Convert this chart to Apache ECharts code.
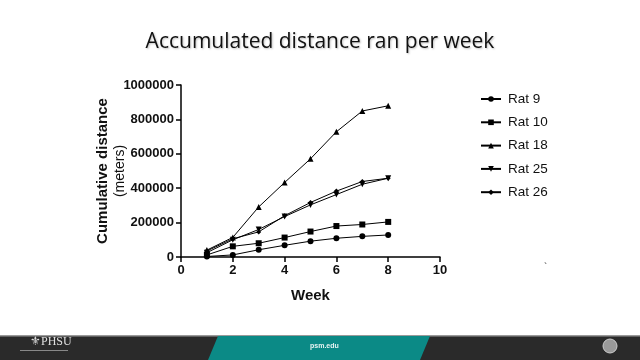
<!DOCTYPE html>
<html><head><meta charset="utf-8">
<script src="https://cdn.jsdelivr.net/npm/echarts@6/dist/echarts.min.js"></script>
<style>html,body{margin:0;padding:0;background:#fff}#c{width:640px;height:360px}</style>
</head><body><div id="c"></div>
<script>
const weeks = [1, 2, 3, 4, 5, 6, 7, 8];
const rat9  = [3000, 12000, 42000, 68000, 92000, 109000, 120000, 128000];
const rat10 = [12000, 62000, 80000, 113000, 148000, 180000, 189000, 204000];
const rat18 = [40000, 114000, 291000, 433000, 571000, 728000, 849000, 879000];
const rat25 = [25000, 100000, 160000, 235000, 303000, 363000, 423000, 458000];
const rat26 = [35000, 106000, 146000, 240000, 317000, 383000, 439000, 458000];
const seriesNames = ['Rat 9', 'Rat 10', 'Rat 18', 'Rat 25', 'Rat 26'];
const xTicks = [0, 2, 4, 6, 8, 10];
const yTicks = [0, 200000, 400000, 600000, 800000, 1000000];

const chart = echarts.init(document.getElementById('c'));
const pair = arr => weeks.map((w, i) => [w, arr[i]]);
const mk = (name, data, symbol, size, rot) => ({
  name, type: 'line', data: pair(data), symbol, symbolSize: size, symbolRotate: rot || 0,
  lineStyle: {color: '#000', width: 1}, itemStyle: {color: '#000'}, animation: false
});
const font = '"Liberation Sans", Arial, sans-serif';
chart.setOption({
  animation: false,
  title: {
    text: 'Accumulated distance ran per week', left: 'center', top: 27,
    textStyle: {fontFamily: '"Open Sans", sans-serif', fontSize: 21, fontWeight: 'normal', color: '#111',
      textShadowColor: 'rgba(0,0,0,0.25)', textShadowBlur: 2, textShadowOffsetX: 1, textShadowOffsetY: 1}
  },
  legend: {
    orient: 'vertical', left: 475, top: 87, itemGap: 9.3, itemWidth: 20, itemHeight: 7,
    data: seriesNames,
    textStyle: {fontFamily: font, fontSize: 13.5, color: '#111', lineHeight: 14, padding: [0, 0, 0, 2]}
  },
  grid: {left: 181, right: 200, top: 85, bottom: 103},
  xAxis: {
    type: 'value', min: xTicks[0], max: xTicks[xTicks.length - 1], interval: 2,
    name: 'Week', nameLocation: 'middle', nameGap: 31,
    nameTextStyle: {fontFamily: font, fontSize: 15, fontWeight: 'bold', color: '#111'},
    axisLine: {lineStyle: {color: '#000', width: 1.5}},
    axisTick: {show: true, length: 5, lineStyle: {color: '#000', width: 1.5}},
    axisLabel: {fontFamily: font, fontSize: 13, fontWeight: 'bold', color: '#111', margin: 7},
    splitLine: {show: false}
  },
  yAxis: {
    type: 'value', min: yTicks[0], max: yTicks[yTicks.length - 1], interval: 200000,
    name: '{a|Cumulative distance}\n{b|(meters)}', nameLocation: 'middle', nameGap: 52, nameRotate: 90,
    nameMoveOverlap: false,
    nameTextStyle: {
      rich: {
        a: {fontFamily: font, fontSize: 15, fontWeight: 'bold', color: '#111', lineHeight: 18, align: 'center'},
        b: {fontFamily: font, fontSize: 14, color: '#111', lineHeight: 17, align: 'center'}
      }
    },
    axisLine: {show: true, lineStyle: {color: '#000', width: 1.5}},
    axisTick: {show: true, length: 5, lineStyle: {color: '#000', width: 1.5}},
    axisLabel: {fontFamily: font, fontSize: 13, fontWeight: 'bold', color: '#111', margin: 7,
      formatter: v => String(v)},
    splitLine: {show: false}
  },
  series: [
    mk(seriesNames[0], rat9, 'circle', 6),
    mk(seriesNames[1], rat10, 'rect', 6),
    mk(seriesNames[2], rat18, 'triangle', 6),
    mk(seriesNames[3], rat25, 'triangle', 6, 180),
    mk(seriesNames[4], rat26, 'diamond', 5)
  ],
  graphic: [
    {type: 'text', left: 544, top: 263, style: {text: '`', fontSize: 10, fill: '#333'}},
    {type: 'rect', shape: {x: 0, y: 335, width: 640, height: 25}, style: {fill: '#2a2a2a'}},
    {type: 'rect', shape: {x: 0, y: 335, width: 640, height: 1.5}, style: {fill: '#9a9a9a'}},
    {type: 'polygon', shape: {points: [[218, 336], [430, 336], [420, 360], [208, 360]]}, style: {fill: '#0b8a86'}},
    {type: 'text', left: 310, top: 343, style: {text: 'psm.edu', fontSize: 7, fontWeight: 'bold', fill: '#e8f4f3', fontFamily: font}},
    {type: 'text', left: 30, top: 336, style: {text: '⚜PHSU', fontSize: 12, fill: '#e0e0e0', fontFamily: '"Liberation Serif", serif'}},
    {type: 'rect', shape: {x: 20, y: 350, width: 48, height: 1}, style: {fill: '#888'}},
    {type: 'circle', shape: {cx: 610, cy: 346, r: 7}, style: {fill: '#9a9a9a', stroke: '#ccc', lineWidth: 1}}
  ]
});
</script></body></html>
